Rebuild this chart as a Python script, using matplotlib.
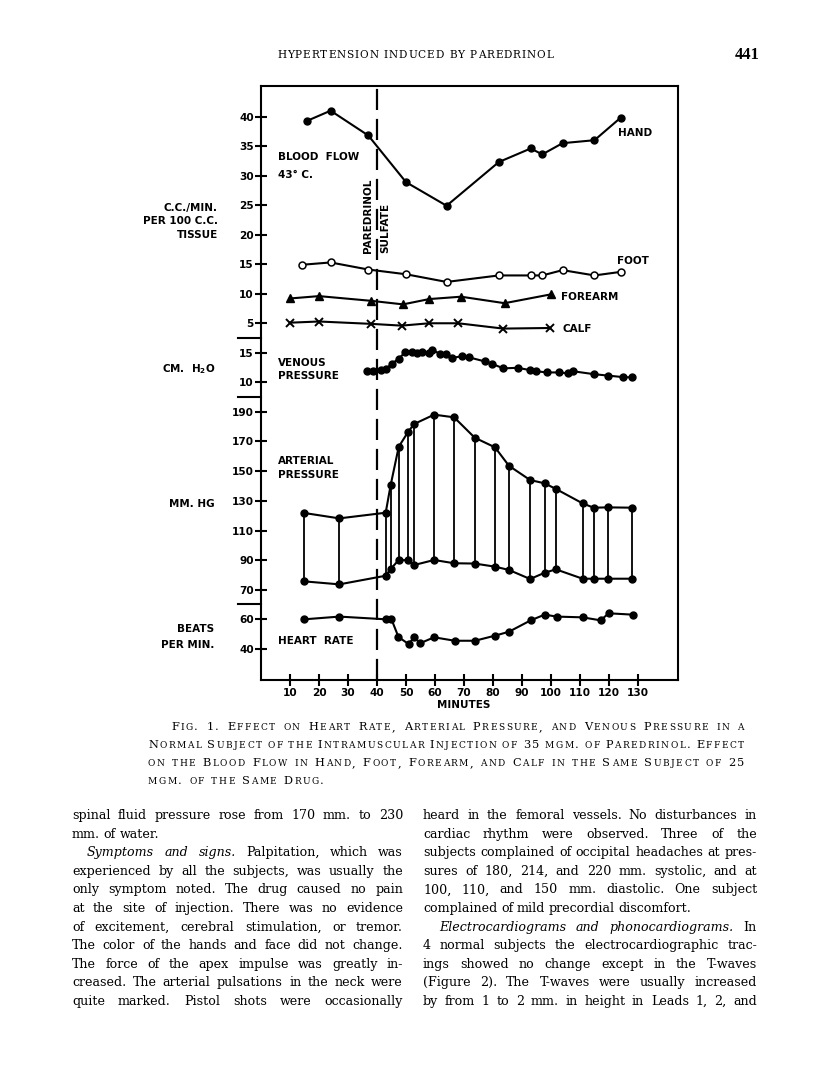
import matplotlib

matplotlib.use("Agg")
import matplotlib.pyplot as plt
from matplotlib.lines import Line2D

W, H = 816, 1078
plt.rcParams["font.family"] = "DejaVu Sans"
plt.rcParams["mathtext.default"] = "regular"

# ---- data (minutes after start) ----
hand_t = [16, 24, 37, 50, 64, 82, 93, 97, 104, 115, 124]
hand_v = [39.3, 41.0, 36.8, 28.9, 24.9, 32.3, 34.6, 33.6, 35.5, 36.0, 39.8]

foot_t = [14, 24, 37, 50, 64, 82, 93, 97, 104, 115, 124]
foot_v = [14.9, 15.3, 14.1, 13.3, 12.0, 13.1, 13.1, 13.1, 14.0, 13.1, 13.7]

forearm_t = [10, 20, 38, 49, 58, 69, 84, 100]
forearm_v = [9.2, 9.6, 8.8, 8.2, 9.1, 9.5, 8.4, 9.9]

calf_t = [10, 20, 38, 48.5, 58, 68, 83.5, 99.5]
calf_v = [5.1, 5.3, 4.9, 4.6, 5.0, 5.0, 4.1, 4.2]

venous_t = [36.7, 38.7, 41.3, 43.1, 45.1, 47.6, 49.7, 52.0, 53.9, 55.4, 57.9,
            59.1, 61.7, 63.7, 65.8, 69.4, 71.7, 77.2, 79.6, 83.6, 88.5, 92.8,
            94.8, 98.7, 102.7, 105.8, 107.7, 114.8, 119.8, 124.7, 127.8]
venous_v = [11.9, 11.9, 12.2, 12.3, 13.2, 14.1, 15.2, 15.2, 15.0, 15.2, 15.1,
            15.6, 14.9, 14.9, 14.2, 14.5, 14.3, 13.6, 13.2, 12.4, 12.5, 12.1,
            11.9, 11.7, 11.7, 11.55, 11.9, 11.4, 11.15, 10.9, 10.85]

art_t = [15, 27, 43, 44.7, 47.5, 50.7, 52.8, 59.7, 66.6, 73.7, 80.7, 85.5,
         92.8, 97.8, 101.7, 110.9, 114.7, 119.7, 127.8]
systolic = [121.8, 118.2, 122.0, 140.5, 166.4, 176.3, 181.7, 188.0, 186.2,
            172.5, 166.0, 153.6, 144.0, 141.8, 138.0, 128.3, 125.4, 125.6, 125.4]
diastolic = [75.8, 73.8, 79.6, 84.1, 90.2, 90.0, 86.8, 90.2, 88.0, 87.8, 85.7,
             83.5, 77.4, 81.6, 83.9, 77.6, 77.6, 77.6, 77.6]

hr_t = [15, 27, 43, 45, 47.4, 50.9, 52.9, 54.8, 59.7, 66.8, 73.8, 80.7, 85.5,
        93, 97.8, 102, 110.9, 117.1, 119.9, 128.2]
hr_v = [60, 61.8, 60, 60, 48.2, 43.5, 48.2, 44, 48, 45.7, 45.7, 49.1, 51.7,
        59.3, 63.1, 61.8, 61.3, 59.3, 64.0, 63.1]

minute_ticks = list(range(10, 131, 10))
injection_at = 40

# ---- page text ----
header = "HYPERTENSION INDUCED BY PAREDRINOL"
page_no = "441"
caption = [
    "Fig. 1. Effect on Heart Rate, Arterial Pressure, and Venous Pressure in a",
    "Normal Subject of the Intramuscular Injection of 35 mgm. of Paredrinol. Effect",
    "on the Blood Flow in Hand, Foot, Forearm, and Calf in the Same Subject of 25",
    "mgm. of the Same Drug.",
]
# (text, italic words at start, justified, indent px)
left_col = [
    ("spinal fluid pressure rose from 170 mm. to 230", 0, True, 0),
    ("mm. of water.", 0, False, 0),
    ("Symptoms and signs. Palpitation, which was", 3, True, 15),
    ("experienced by all the subjects, was usually the", 0, True, 0),
    ("only symptom noted. The drug caused no pain", 0, True, 0),
    ("at the site of injection. There was no evidence", 0, True, 0),
    ("of excitement, cerebral stimulation, or tremor.", 0, True, 0),
    ("The color of the hands and face did not change.", 0, True, 0),
    ("The force of the apex impulse was greatly in-", 0, True, 0),
    ("creased. The arterial pulsations in the neck were", 0, True, 0),
    ("quite marked. Pistol shots were occasionally", 0, True, 0),
]
right_col = [
    ("heard in the femoral vessels. No disturbances in", 0, True, 0),
    ("cardiac rhythm were observed. Three of the", 0, True, 0),
    ("subjects complained of occipital headaches at pres-", 0, True, 0),
    ("sures of 180, 214, and 220 mm. systolic, and at", 0, True, 0),
    ("100, 110, and 150 mm. diastolic. One subject", 0, True, 0),
    ("complained of mild precordial discomfort.", 0, False, 0),
    ("Electrocardiograms and phonocardiograms. In", 3, True, 16),
    ("4 normal subjects the electrocardiographic trac-", 0, True, 0),
    ("ings showed no change except in the T-waves", 0, True, 0),
    ("(Figure 2). The T-waves were usually increased", 0, True, 0),
    ("by from 1 to 2 mm. in height in Leads 1, 2, and", 0, True, 0),
]

fig = plt.figure(figsize=(W / 100, H / 100), dpi=100)
fig.patch.set_facecolor("white")
R = fig.canvas.get_renderer()


def fx(px):
    return px / W


def fy(py):
    return 1 - py / H


def add_ax(top, bottom):
    return fig.add_axes([fx(261), fy(bottom), (678 - 261) / W, (bottom - top) / H])


XMAX = 143.8
LW = 1.5

# frame + minutes axis
base = add_ax(86, 680)
base.set_xlim(0, XMAX)
base.set_ylim(0, 1)
base.set_yticks([])
base.set_xticks(minute_ticks)
for s in base.spines.values():
    s.set_linewidth(LW)
base.tick_params(axis="x", direction="inout", length=9, width=LW, pad=1.5, labelsize=7.6)
for lbl in base.get_xticklabels():
    lbl.set_fontweight("bold")
base.axvline(injection_at, color="k", lw=1.6, linestyle=(0, (9.5, 4)))


def panel(top, bottom, ylim, ticks):
    a = add_ax(top, bottom)
    a.patch.set_visible(False)
    for s in a.spines.values():
        s.set_visible(False)
    a.set_xlim(0, XMAX)
    a.set_ylim(*ylim)
    a.set_xticks([])
    a.set_yticks(ticks)
    a.tick_params(axis="y", direction="inout", length=8, width=LW, pad=1.2, labelsize=7.6)
    for lbl in a.get_yticklabels():
        lbl.set_fontweight("bold")
    return a


bf = panel(86, 338, (2.506, 45.18), range(5, 41, 5))
vp = panel(338, 396.7, (7.517, 17.638), [10, 15])
ap = panel(396.7, 604.3, (60.38, 200.08), range(70, 191, 20))
hr = panel(604.3, 680, (19.53, 70), [40, 60])

kw = dict(color="k", lw=LW, clip_on=False)
bf.plot(hand_t, hand_v, marker="o", ms=5, **kw)
bf.plot(foot_t, foot_v, marker="o", ms=5, mfc="white", mew=1.1, **kw)
bf.plot(forearm_t, forearm_v, marker="^", ms=5.5, **kw)
bf.plot(calf_t, calf_v, marker="x", ms=6, mew=1.4, **kw)
vp.plot(venous_t, venous_v, marker="o", ms=5, **kw)
ap.vlines(art_t, diastolic, systolic, color="k", lw=1.3)
ap.plot(art_t, systolic, marker="o", ms=5, **kw)
ap.plot(art_t, diastolic, marker="o", ms=5, **kw)
hr.plot(hr_t, hr_v, marker="o", ms=5, **kw)

# short separators left of the axis
for yy in (338, 396.7, 604.3):
    fig.add_artist(Line2D([fx(238), fx(261)], [fy(yy), fy(yy)], color="k", lw=LW,
                          transform=fig.transFigure))


def T(px, py, s, size=7.5, **k):
    opts = dict(fontsize=size, fontweight="bold", va="baseline", ha="left")
    opts.update(k)
    return fig.text(fx(px), fy(py), s, **opts)


cap = 3.8
for px, py, s in [(277.7, 156, "BLOOD  FLOW"), (277.7, 174, "43° C."),
                  (618, 132, "HAND"), (616.7, 260, "FOOT"), (560.7, 296, "FOREARM"),
                  (562.3, 328, "CALF"), (277.7, 361.7, "VENOUS"), (277.7, 375, "PRESSURE"),
                  (277.7, 460, "ARTERIAL"), (277.7, 474, "PRESSURE"),
                  (277.7, 640, "HEART  RATE")]:
    T(px, py + cap, s)
for px, py, s in [(218, 207, "C.C./MIN."), (218, 220.5, "PER 100 C.C."), (218, 234, "TISSUE"),
                  (215, 368, "CM.  H$_2$O"), (215, 503, "MM. HG"),
                  (214, 628, "BEATS"), (214, 644, "PER MIN.")]:
    T(px, py + cap, s, ha="right")
T(463.3, 704.7 + cap, "MINUTES", ha="center")
T(368, 253, "PAREDRINOL", rotation=90, ha="center", va="bottom")
T(385.5, 253, "SULFATE", rotation=90, ha="center", va="bottom")

# ---- typeset helpers for the page text ----
SERIF = "DejaVu Serif"


def make_runs(runs):
    out = []
    for s, k in runs:
        t = fig.text(0, 0, s, va="baseline", ha="left", family=SERIF, fontweight="normal", **k)
        out.append((t, t.get_window_extent(R).width))
    return out


def set_line(x0, x1, yb, words, justify, space, track=0.0):
    made = [make_runs(w) for w in words]
    widths = [sum(w for _, w in m) + track * (len(m) - 1) for m in made]
    n = len(made)
    gap = (x1 - x0 - sum(widths)) / (n - 1) if (justify and n > 1) else space
    x = x0
    for m, wd in zip(made, widths):
        xx = x
        for t, w in m:
            t.set_position((fx(xx), fy(yb)))
            xx += w + track
        x += wd + gap


def body(col, x0, x1, y0, step, size=9.1):
    for i, (line, n_it, just, indent) in enumerate(col):
        words = []
        for j, w in enumerate(line.split()):
            st = "italic" if j < n_it else "normal"
            words.append([(w, dict(fontsize=size, style=st))])
        set_line(x0 + indent, x1, y0 + i * step, words, just, size * 0.4)


body(left_col, 72, 403, 819, 18.6)
body(right_col, 423, 757, 819, 18.6)


def smallcaps(word, big, small):
    runs = []
    for c in word:
        if c.islower():
            runs.append((c.upper(), dict(fontsize=small)))
        else:
            runs.append((c, dict(fontsize=big)))
    return runs


for i, line in enumerate(caption):
    x0 = 171 if i == 0 else 148
    words = [smallcaps(w, 8.2, 6.5) for w in line.split()]
    set_line(x0, 744, 730.5 + i * 18, words, i < 3, 7.0, track=1.5)

# running header, letter-spaced
hx0, hx1, hy = 277, 553, 58.5
made = []
for c in header:
    if c == " ":
        made.append(None)
    else:
        t = fig.text(0, 0, c, va="baseline", ha="left", family=SERIF, fontsize=7.6,
                     fontweight="normal")
        made.append((t, t.get_window_extent(R).width))
sp = 3.5
natural = sum(m[1] if m else sp for m in made)
track = (hx1 - hx0 - natural) / (len(made) - 1)
x = hx0
for m in made:
    if m is None:
        x += sp + track
    else:
        m[0].set_position((fx(x), fy(hy)))
        x += m[1] + track
fig.text(fx(760), fy(59), page_no, ha="right", va="baseline", family="Liberation Serif",
         fontsize=12, fontweight="bold")

fig.savefig("out.png", dpi=100, facecolor="white")
